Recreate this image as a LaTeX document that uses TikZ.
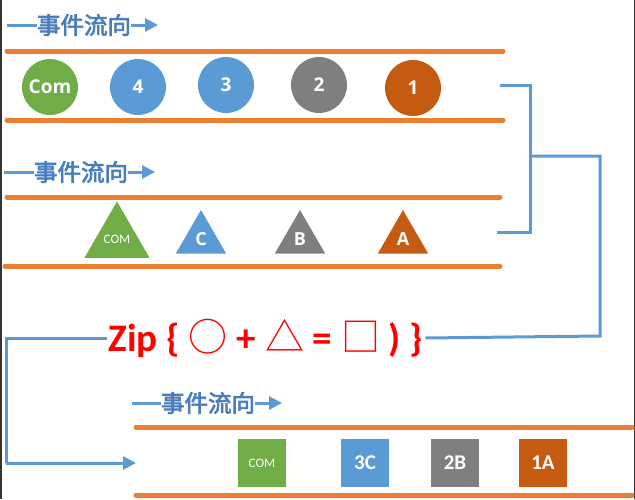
\documentclass[tikz,border=0pt]{standalone}
\usepackage{fontspec}
\setmainfont{Carlito}
\newfontfamily\cjk{Noto Sans CJK SC}
\newfontfamily\cjkbold{Noto Sans CJK SC}[FakeBold=3]
\newfontfamily\lblfont{Open Sans}
\usetikzlibrary{arrows.meta,shapes.geometric}
\definecolor{evgreen}{HTML}{70AD47}
\definecolor{evblue}{HTML}{5B9BD5}
\definecolor{evgray}{HTML}{7F7F7F}
\definecolor{evbrown}{HTML}{C55A11}
\definecolor{railorange}{HTML}{ED7D31}
\definecolor{flowblue}{HTML}{4A7EBB}

\begin{document}
\begin{tikzpicture}[
    x=1pt, y=-1pt,
    circ/.style={circle, minimum size=56pt, inner sep=0pt, text=white, font=\fontsize{19}{19}\lblfont\bfseries},
    tri/.style={regular polygon, regular polygon sides=3, minimum size=58pt, inner sep=0pt, text=white, font=\fontsize{18}{18}\lblfont\bfseries},
    sq/.style={rectangle, minimum size=48pt, inner sep=0pt, text=white, font=\fontsize{21}{21}\selectfont\bfseries},
    rail/.style={railorange, line width=5pt, line cap=round},
    flow/.style={flowblue, font=\fontsize{23.5}{23.5}\cjkbold, inner sep=0pt},
    flowline/.style={evblue, line width=3pt},
    flowarr/.style={evblue, line width=3pt, -{Triangle[length=13pt,width=13pt]}},
    conn/.style={evblue, line width=3pt}
]
\useasboundingbox (0,0) rectangle (635,499);
\draw[black!80, line width=1.5pt] (0.75,0) -- (0.75,499);
\draw[black!80, line width=1.5pt] (634.25,0) -- (634.25,499);

% first stream: circles
\node[flow] (flowA) at (84,25) {事件流向};
\coordinate (flowAs) at (7,25);
\coordinate (flowAe) at (158,25);
\draw[flowline] (flowAs) -- (flowA.west);
\draw[flowarr] (flowA.east) -- (flowAe);
\draw[rail] (7,51) -- (503,51);
\draw[rail] (7,120) -- (503,120);
\node[circ, fill=evgreen] (cCom) at (50,87) {Com};
\node[circ, fill=evblue] (c4) at (138,87) {4};
\node[circ, fill=evblue] (c3) at (226,85) {3};
\node[circ, fill=evgray] (c2) at (319,85) {2};
\node[circ, fill=evbrown] (c1) at (413,88) {1};

% second stream: triangles
\node[flow] (flowB) at (81,172) {事件流向};
\coordinate (flowBs) at (4,172);
\coordinate (flowBe) at (155,172);
\draw[flowline] (flowBs) -- (flowB.west);
\draw[flowarr] (flowB.east) -- (flowBe);
\draw[rail] (7,197) -- (500,197);
\draw[rail] (5,266) -- (500,266);
\node[tri, fill=evgreen, font=\fontsize{13}{13}\selectfont] (tCom) at (117,239) {COM};
\node[tri, fill=evblue] (tC) at (201,239) {C};
\node[tri, fill=evgray] (tB) at (300,239) {B};
\node[tri, fill=evbrown] (tA) at (403,239) {A};

% zip operator
\node[text={rgb,255:red,255;green,0;blue,0}, font=\fontsize{39}{39}\selectfont\bfseries, inner sep=2pt] (zip) at (266,338)
  {Zip \{ {\cjk\mdseries ○} + {\cjk\mdseries △} = {\cjk\mdseries □} ) \}};

\coordinate (brA) at (500,85);
\coordinate (brB) at (497,232);
\coordinate (brM) at (530,156);
\draw[conn] (brA) -- (530,85) -- (530,232) -- (brB);
\draw[conn] (zip.east) -- (600,336) -- (600,156) -- (brM);

% zipped stream: squares
\coordinate (zipIn) at (136,463);
\draw[conn] (zip.west) -- (6,338) -- (6,463);
\draw[flowarr] (6,463) -- (zipIn);
\node[flow] (flowC) at (208,403) {事件流向};
\coordinate (flowCs) at (132,403);
\coordinate (flowCe) at (282,403);
\draw[flowline] (flowCs) -- (flowC.west);
\draw[flowarr] (flowC.east) -- (flowCe);
\draw[rail] (136,427) -- (632,427);
\draw[rail] (136,495) -- (632,495);
\node[sq, fill=evgreen, font=\fontsize{13}{13}\selectfont] (sCom) at (262,463) {COM};
\node[sq, fill=evblue] (s3C) at (365,463) {3C};
\node[sq, fill=evgray] (s2B) at (455,463) {2B};
\node[sq, fill=evbrown] (s1A) at (543,463) {1A};
\end{tikzpicture}
\end{document}
